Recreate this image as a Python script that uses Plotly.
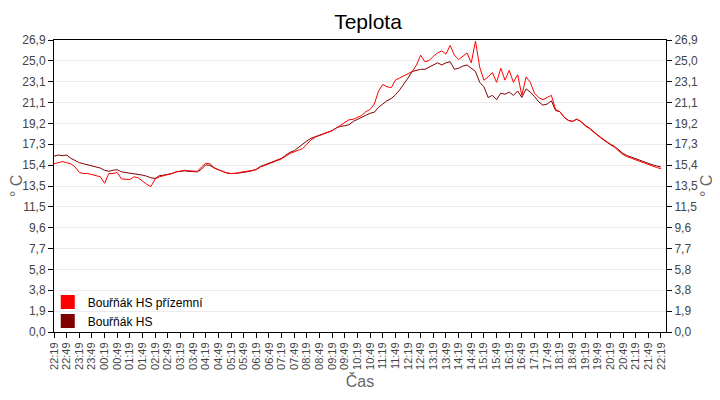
import plotly.graph_objects as go

# time in minutes after 22:19, 10-minute steps
minutes = list(range(0, 1441, 10))

hs = [16.2, 16.3, 16.25, 16.3, 16.0, 15.8, 15.6, 15.5, 15.4, 15.3,
      15.2, 15.1, 14.9, 14.8, 14.9, 14.95, 14.75, 14.7, 14.65, 14.6,
      14.55, 14.45, 14.35, 14.2, 14.15, 14.4, 14.45, 14.5, 14.6, 14.75,
      14.8, 14.85, 14.8, 14.8, 14.75, 15.0, 15.4, 15.35, 15.1, 14.95,
      14.8, 14.65, 14.6, 14.6, 14.65, 14.7, 14.75, 14.85, 15.0, 15.25,
      15.4, 15.55, 15.7, 15.85, 16.0, 16.3, 16.55, 16.7, 17.0, 17.35,
      17.6, 17.85, 18.0, 18.15, 18.3, 18.4, 18.55, 18.8, 18.95, 19.0,
      19.1, 19.4, 19.6, 19.75, 19.95, 20.15, 20.25, 20.7, 21.0, 21.3,
      21.5, 21.85, 22.3, 22.8, 23.4, 24.0, 24.1, 24.2, 24.2, 24.4,
      24.6, 24.8, 24.6, 24.8, 24.9, 24.2, 24.3, 24.5, 24.6, 24.3,
      24.0, 23.0, 22.6, 21.6, 21.8, 21.4, 22.0, 21.9, 22.1, 21.8,
      22.2, 21.6, 22.4, 22.1, 21.7, 21.2, 20.9, 21.0, 21.3, 20.4,
      20.3, 19.8, 19.5, 19.4, 19.6, 19.4, 19.05, 18.8, 18.45, 18.15,
      17.85, 17.55, 17.3, 17.1, 16.8, 16.45, 16.25, 16.1, 15.95, 15.8,
      15.65, 15.5, 15.4, 15.3, 15.2]

hs_ground = [15.5, 15.6, 15.7, 15.6, 15.5, 15.2, 14.7, 14.6, 14.6, 14.5,
             14.4, 14.3, 13.7, 14.6, 14.6, 14.7, 14.1, 14.1, 14.05, 14.3,
             14.2, 13.9, 13.6, 13.4, 14.1, 14.3, 14.4, 14.45, 14.6, 14.75,
             14.8, 14.9, 14.85, 14.8, 14.8, 15.2, 15.55, 15.5, 15.15, 14.95,
             14.8, 14.65, 14.6, 14.6, 14.7, 14.75, 14.8, 14.85, 14.95, 15.2,
             15.35, 15.5, 15.65, 15.8, 15.95, 16.2, 16.45, 16.6, 16.75, 16.9,
             17.3, 17.7, 17.95, 18.1, 18.2, 18.35, 18.55, 18.8, 19.05, 19.3,
             19.55, 19.6, 19.8, 19.95, 20.3, 20.5, 21.0, 22.2, 22.8, 22.6,
             22.5, 23.2, 23.4, 23.6, 23.8, 24.0, 24.6, 25.5, 24.9, 25.0,
             25.4, 25.7, 25.9, 25.6, 26.4, 25.5, 25.1, 25.4, 25.7, 24.8,
             26.8, 24.4, 23.2, 23.5, 23.9, 23.0, 24.3, 23.2, 24.1, 23.0,
             23.7, 21.8, 23.5, 23.0, 22.0, 21.6, 21.4, 21.6, 21.8, 20.5,
             20.3, 19.8, 19.5, 19.4, 19.6, 19.4, 19.0, 18.75, 18.4, 18.1,
             17.8, 17.5, 17.25, 17.0, 16.7, 16.35, 16.15, 16.0, 15.85, 15.7,
             15.55, 15.4, 15.3, 15.15, 15.05]

x_tick_labels = ["22:19", "22:49", "23:19", "23:49", "00:19", "00:49", "01:19", "01:49",
                 "02:19", "02:49", "03:19", "03:49", "04:19", "04:49", "05:19", "05:49",
                 "06:19", "06:49", "07:19", "07:49", "08:19", "08:49", "09:19", "09:49",
                 "10:19", "10:49", "11:19", "11:49", "12:19", "12:49", "13:19", "13:49",
                 "14:19", "14:49", "15:19", "15:49", "16:19", "16:49", "17:19", "17:49",
                 "18:19", "18:49", "19:19", "19:49", "20:19", "20:49", "21:19", "21:49",
                 "22:19"]
x_tick_vals = [30 * i for i in range(len(x_tick_labels))]

y_max = 26.9
y_tick_labels = ["0,0", "1,9", "3,8", "5,8", "7,7", "9,6", "11,5", "13,5",
                 "15,4", "17,3", "19,2", "21,1", "23,1", "25,0", "26,9"]
y_tick_vals = [y_max * i / 14 for i in range(len(y_tick_labels))]

RED = "#FF0000"
DARK = "#800000"
TXT = "#444444"
FONT = "Liberation Sans, Arial, sans-serif"

fig = go.Figure()
fig.add_trace(go.Scatter(x=minutes, y=hs, mode="lines", line=dict(color=DARK, width=1),
                         showlegend=False, hoverinfo="skip"))
fig.add_trace(go.Scatter(x=minutes, y=hs_ground, mode="lines", line=dict(color=RED, width=1),
                         showlegend=False, hoverinfo="skip"))
# legend entries (square swatches)
fig.add_trace(go.Scatter(x=[None], y=[None], mode="markers", name="Bouřňák HS přízemní",
                         marker=dict(symbol="square", size=14, color=RED), yaxis="y2"))
fig.add_trace(go.Scatter(x=[None], y=[None], mode="markers", name="Bouřňák HS",
                         marker=dict(symbol="square", size=14, color=DARK), yaxis="y2"))

yaxis_common = dict(
    range=[0, y_max], tickmode="array", tickvals=y_tick_vals, ticktext=y_tick_labels,
    ticks="outside", ticklen=5, tickcolor="black", showline=True, linecolor="black",
    linewidth=1, tickfont=dict(size=12, color=TXT, family=FONT), zeroline=False,
)
title_font = dict(size=16, color="#666666", family=FONT)

# the page body has an 8px margin, so the figure is placed at (8, 8) in the window
fig.update_layout(
    width=720, height=400,
    margin=dict(l=46, r=62, t=32, b=76, autoexpand=False),
    paper_bgcolor="white", plot_bgcolor="white",
    title=dict(text="Teplota", x=0.5, xanchor="center", y=0.965, yanchor="middle",
               font=dict(size=21, color="black", family=FONT)),
    xaxis=dict(
        range=[0, 1452], tickmode="array", tickvals=x_tick_vals, ticktext=x_tick_labels,
        tickangle=-90, ticks="outside", ticklen=5, tickcolor="black",
        showline=True, linecolor="black", linewidth=1, mirror=True, showgrid=False,
        zeroline=False, tickfont=dict(size=11, color=TXT, family=FONT),
        title=dict(text="Čas", font=title_font, standoff=6),
    ),
    yaxis=dict(**yaxis_common, side="left", showgrid=True, gridcolor="#EBEBEB", gridwidth=1),
    yaxis2=dict(**yaxis_common, side="right", overlaying="y", showgrid=False),
    legend=dict(x=-0.0102, y=-0.012, xanchor="left", yanchor="bottom", bgcolor="rgba(0,0,0,0)",
                font=dict(size=12, color="black", family=FONT), tracegroupgap=0),
    showlegend=True,
    annotations=[
        dict(text="° C", textangle=-90, xref="paper", yref="paper", x=-0.062, y=0.5,
             xanchor="center", yanchor="middle", showarrow=False, font=title_font),
        dict(text="° C", textangle=-90, xref="paper", yref="paper", x=1.0654, y=0.5,
             xanchor="center", yanchor="middle", showarrow=False, font=title_font),
    ],
)

fig.write_html("out.html")
